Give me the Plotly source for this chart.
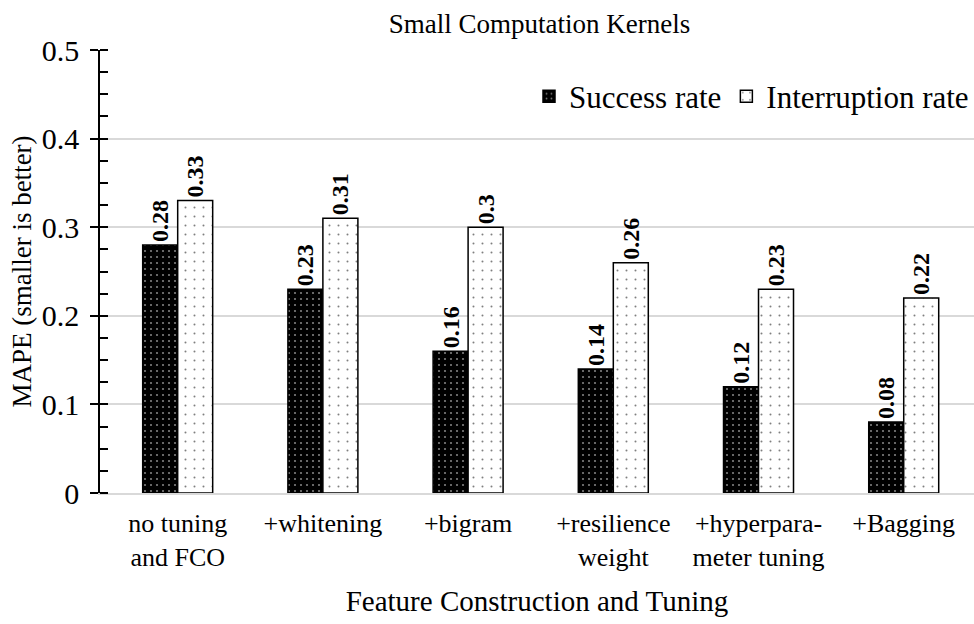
import plotly.graph_objects as go

categories = ["no tuning<br>and FCO", "+whitening", "+bigram", "+resilience<br>weight",
              "+hyperpara-<br>meter tuning", "+Bagging"]
success_rate = [0.28, 0.23, 0.16, 0.14, 0.12, 0.08]
interruption_rate = [0.33, 0.31, 0.30, 0.26, 0.23, 0.22]
y_ticks = [0, 0.1, 0.2, 0.3, 0.4, 0.5]
y_ticktext = ["0", "0.1", "0.2", "0.3", "0.4", "0.5"]

FONT = "Liberation Serif, Times New Roman, serif"

fig = go.Figure()
fig.add_trace(go.Bar(
    name="Success rate", x=categories, y=success_rate,
    text=[f"{v:g}" for v in success_rate], textposition="outside", textangle=-90,
    textfont=dict(family=FONT, size=24, color="black", weight="bold"),
    constraintext="none", cliponaxis=False,
    marker=dict(color="black", line=dict(color="black", width=1.5),
                pattern=dict(shape=".", bgcolor="black", fgcolor="white", size=6, solidity=0.1)),
))
fig.add_trace(go.Bar(
    name="Interruption rate", x=categories, y=interruption_rate,
    text=[f"{v:g}" for v in interruption_rate], textposition="outside", textangle=-90,
    textfont=dict(family=FONT, size=24, color="black", weight="bold"),
    constraintext="none", cliponaxis=False,
    marker=dict(color="white", line=dict(color="black", width=1.5),
                pattern=dict(shape=".", bgcolor="white", fgcolor="black", size=9, solidity=0.04)),
))

fig.update_layout(
    width=974, height=624,
    margin=dict(l=100, r=0, t=50, b=131),
    paper_bgcolor="white", plot_bgcolor="white",
    font=dict(family=FONT, color="black"),
    barmode="group", bargap=0.518, bargroupgap=0,
    title=dict(text="Small Computation Kernels", x=0.554, xanchor="center", y=0.962, yanchor="middle",
               font=dict(family=FONT, size=27, color="black")),
    legend=dict(orientation="h", x=1.0, xanchor="right", y=0.895, yanchor="middle",
                font=dict(family=FONT, size=31, color="black"), bgcolor="rgba(0,0,0,0)",
                itemwidth=30, tracegroupgap=0),
    xaxis=dict(
        range=[-0.535, 5.484],
        showline=True, linecolor="#d9d9d9", linewidth=2,
        ticks="", tickfont=dict(family=FONT, size=26, color="black"),
        ticklabelstandoff=6,
        title=dict(text="Feature Construction and Tuning", font=dict(family=FONT, size=29, color="black"),
                   standoff=20),
    ),
    yaxis=dict(
        range=[0, 0.5], tickvals=y_ticks, ticktext=y_ticktext,
        showline=True, linecolor="black", linewidth=1.5,
        ticks="outside", ticklen=8, tickwidth=1.5, tickcolor="black",
        tickfont=dict(family=FONT, size=30, color="black"),
        ticklabelstandoff=5,
        showgrid=True, gridcolor="#d9d9d9", gridwidth=1.5,
        minor=dict(dtick=0.025, ticks="inside", ticklen=8, tickwidth=1.5, tickcolor="black", showgrid=False),
        zeroline=False,
        title=dict(text="MAPE (smaller is better)", font=dict(family=FONT, size=27, color="black"),
                   standoff=2),
    ),
)

fig.write_html("out.html")
